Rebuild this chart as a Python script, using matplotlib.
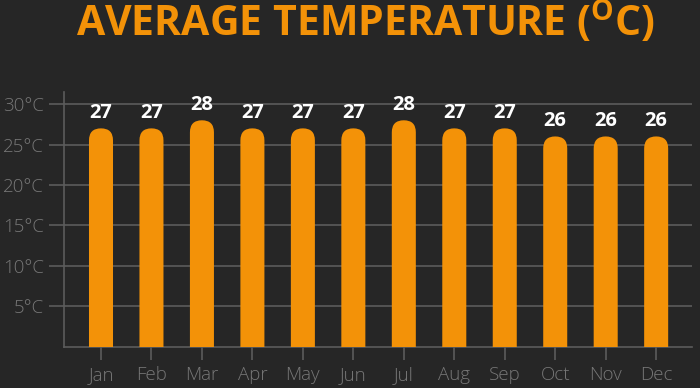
import matplotlib
matplotlib.use("Agg")
import matplotlib.pyplot as plt
from matplotlib.patches import FancyBboxPatch

months = ["Jan", "Feb", "Mar", "Apr", "May", "Jun",
          "Jul", "Aug", "Sep", "Oct", "Nov", "Dec"]
temps = [27, 27, 28, 27, 27, 27, 28, 27, 27, 26, 26, 26]
yticks = [5, 10, 15, 20, 25, 30]
ytick_labels = [f"{t}°C" for t in yticks]

BG = "#262626"
ORANGE = "#f39208"
GRID = "#5c5c5c"
LABEL = "#777777"

plt.rcParams["font.family"] = ["Open Sans", "DejaVu Sans"]
plt.rcParams["mathtext.fontset"] = "custom"
plt.rcParams["mathtext.rm"] = "Open Sans:bold"

fig = plt.figure(figsize=(7, 3.88), dpi=100, facecolor=BG)
ax = fig.add_axes([63.5 / 700, 41.5 / 388, 628.5 / 700, 254.5 / 388])
ax.set_facecolor(BG)

x = list(range(len(months)))
ax.set_xlim(-0.743, 11.71)
ax.set_ylim(0, 31.5)

# pixel aspect so the round tops come out circular
fig.canvas.draw()
p0 = ax.transData.transform((0, 0))
p1 = ax.transData.transform((1, 1))
aspect = (p1[0] - p0[0]) / (p1[1] - p0[1])

w = 0.476
for xi, v in zip(x, temps):
    bar = FancyBboxPatch((xi - w / 2, -3), w, v + 3,
                         boxstyle=f"round,pad=0,rounding_size={w / 2}",
                         mutation_aspect=aspect, facecolor=ORANGE,
                         edgecolor="none", zorder=3)
    ax.add_patch(bar)
    ax.text(xi, v + 0.7, str(v), ha="center", va="bottom", color="white",
            fontsize=14.5, fontweight="bold", zorder=4)

ax.set_xticks(x)
ax.set_xticklabels(months)
ax.set_yticks(yticks)
ax.set_yticklabels(ytick_labels)
ax.tick_params(axis="y", length=11, width=1.2, color=GRID, labelcolor=LABEL,
               labelsize=13.5, pad=3)
ax.tick_params(axis="x", length=9, width=1.2, color=GRID, labelcolor=LABEL,
               labelsize=13.5, pad=5)
for lbl in ax.get_xticklabels() + ax.get_yticklabels():
    lbl.set_fontweight(300)
ax.grid(axis="y", color=GRID, linewidth=1.2, zorder=0)
for side in ["top", "right"]:
    ax.spines[side].set_visible(False)
for side in ["left", "bottom"]:
    ax.spines[side].set_color(GRID)
    ax.spines[side].set_linewidth(1.2)

fig.text(366 / 700, 1 - 36 / 388, r"AVERAGE TEMPERATURE ($^{\mathrm{O}}$C)",
         ha="center", va="baseline", color=ORANGE, fontsize=29.5,
         fontweight="bold")

fig.savefig("out.png", dpi=100, facecolor=BG)
